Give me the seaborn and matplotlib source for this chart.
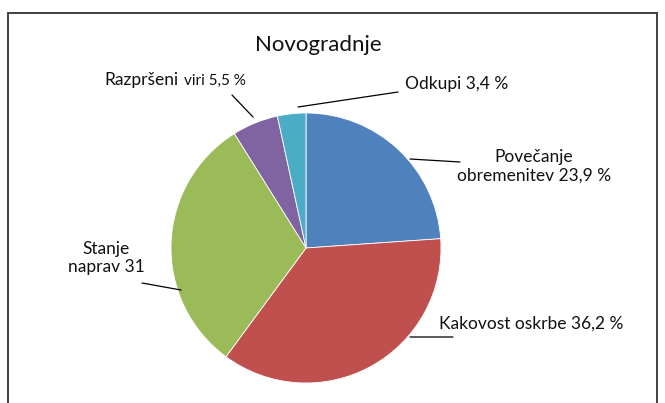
import matplotlib
matplotlib.use("Agg")
import matplotlib.pyplot as plt
import matplotlib.patches as mpatches
import seaborn as sns

# --- data ---
CATEGORIES = ["Povečanje obremenitev", "Kakovost oskrbe", "Stanje naprav", "Razpršeni viri", "Odkupi"]
SHARES = [23.9, 36.2, 31.0, 5.5, 3.4]
COLORS = ["#4F81BD", "#C0504D", "#9BBB59", "#8064A2", "#4BACC6"]
TITLE = "Novogradnje"

sns.set_theme(style="white")
plt.rcParams["font.family"] = ["Lato", "DejaVu Sans"]

W, H = 665, 403
fig = plt.figure(figsize=(W / 100, H / 100), dpi=100)

# chart area frame (cut off at the bottom like the original)
fig.patches.append(mpatches.Rectangle((8 / W, -0.05), (657 - 8) / W, 1.05 - 13 / H,
                                      transform=fig.transFigure, fill=False,
                                      edgecolor="#404040", linewidth=1.4))

CX, CY, R = 306, 248, 135
ax = fig.add_axes([(CX - R) / W, (H - CY - R) / H, 2 * R / W, 2 * R / H])
ax.pie(SHARES, colors=COLORS, startangle=90, counterclock=False, radius=1,
       wedgeprops=dict(edgecolor="white", linewidth=0.6))
ax.set_xlim(-1, 1)
ax.set_ylim(-1, 1)
ax.set_aspect("equal")
ax.axis("off")


def d(px, py):
    # pixel position -> data coords of the pie axes
    return ((px - CX) / R, (CY - py) / R)


def leader(p0, p1):
    ax.annotate("", xy=d(*p0), xytext=d(*p1), xycoords="data",
                arrowprops=dict(arrowstyle="-", color="black", lw=0.9,
                                shrinkA=0, shrinkB=0), annotation_clip=False)


fig.text(318 / W, 1 - 45 / H, TITLE, ha="center", va="center", fontsize=16, color="#111111")

FS = 12.5
TC = "#111111"
# Povečanje obremenitev
leader((410, 159), (460, 162))
ax.text(*d(534, 166), "Povečanje\nobremenitev 23,9 %", ha="center", va="center",
        fontsize=FS, linespacing=1.2, color=TC, clip_on=False)
# Kakovost oskrbe
leader((410, 337), (453, 337))
ax.text(*d(439, 324), "Kakovost oskrbe 36,2 %", ha="left", va="center",
        fontsize=FS, color=TC, clip_on=False)
# Stanje naprav
leader((181, 290), (142, 283))
ax.text(*d(106, 258), "Stanje\nnaprav 31", ha="center", va="center",
        fontsize=FS, linespacing=1.2, color=TC, clip_on=False)
# Razpršeni viri
leader((253, 117), (232, 95))
ax.text(*d(104, 80), "Razpršeni", ha="left", va="center", fontsize=FS, color=TC, clip_on=False)
ax.text(*d(184, 81), "viri 5,5 %", ha="left", va="center", fontsize=11, color=TC, clip_on=False)
# Odkupi
leader((298, 107), (398, 92))
ax.text(*d(405, 84), "Odkupi 3,4 %", ha="left", va="center", fontsize=FS, color=TC, clip_on=False)

fig.savefig("out.png", dpi=100)
